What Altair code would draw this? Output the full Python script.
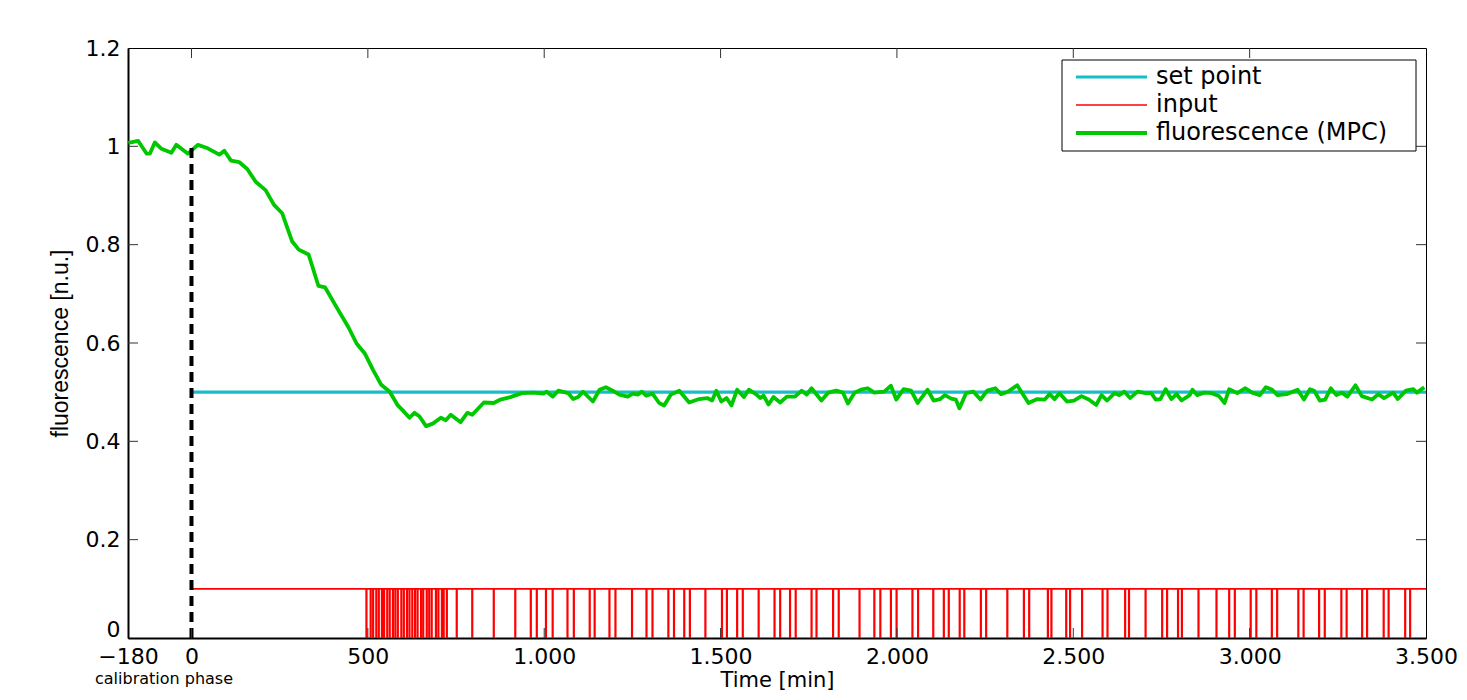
import altair as alt
import pandas as pd

# ---------------- data ----------------
T_START, T_END = -180, 3500
SET_POINT = 0.5
INPUT_LEVEL = 0.1
CALIB_END = 0
CALIB_TOP = 1.0

fluo_t = [-179, -151, -127, -118, -104, -85, -57, -43, -10, 18, 46, 79, 93, 112, 135, 158,
          182, 210, 234, 257, 285, 304, 332, 360, 379, 412, 445, 468, 492, 515, 538, 562,
          585, 599, 618, 632, 646, 665, 684, 707, 721, 735, 763, 782, 796, 829, 857, 876,
          904, 937, 970, 998, 1007, 1024, 1040, 1068, 1082, 1096, 1110, 1138, 1157, 1175,
          1194, 1213, 1237, 1251, 1265, 1277, 1289, 1307, 1326, 1340, 1359, 1383, 1411,
          1439, 1462, 1476, 1488, 1502, 1517, 1531, 1547, 1566, 1580, 1598, 1613, 1622,
          1636, 1650, 1669, 1688, 1711, 1730, 1744, 1758, 1786, 1805, 1828, 1847, 1861,
          1880, 1898, 1917, 1936, 1964, 1983,
          1998, 2019, 2040, 2059, 2087, 2104, 2123, 2136, 2154, 2167, 2177, 2196, 2217,
          2237, 2256, 2279, 2295, 2315, 2341, 2373, 2398, 2419, 2433, 2447, 2461, 2482,
          2502, 2523, 2544, 2565, 2580, 2596, 2617, 2630, 2645, 2661, 2682, 2705, 2721,
          2734, 2747, 2762, 2778, 2793, 2807, 2830, 2838, 2851, 2871, 2892, 2913, 2929,
          2942, 2965, 2988, 3007, 3029, 3046, 3064, 3079, 3105, 3136, 3154, 3171, 3183,
          3199, 3214, 3230, 3246, 3261, 3277, 3300, 3318, 3347, 3365, 3381, 3407, 3420,
          3443, 3464, 3474, 3495]
fluo_v = [1.007, 1.011, 0.985, 0.985, 1.008, 0.995, 0.987, 1.003, 0.985, 1.003, 0.996, 0.983,
          0.991, 0.971, 0.968, 0.954, 0.928, 0.911, 0.881, 0.864, 0.807, 0.790, 0.780, 0.716,
          0.713, 0.672, 0.632, 0.599, 0.578, 0.545, 0.515, 0.501,
          0.473, 0.463, 0.448, 0.458, 0.451, 0.431, 0.436, 0.448, 0.443, 0.454, 0.439, 0.458,
          0.454, 0.479, 0.478, 0.485, 0.490, 0.498, 0.499, 0.497, 0.501, 0.491, 0.503, 0.498,
          0.486, 0.490, 0.501, 0.481, 0.505, 0.510, 0.503, 0.495, 0.491, 0.497, 0.495, 0.501,
          0.493, 0.497, 0.478, 0.473, 0.495, 0.503, 0.479, 0.486, 0.488, 0.483, 0.503, 0.481,
          0.488, 0.473, 0.505, 0.490, 0.505, 0.497, 0.488, 0.493, 0.475, 0.490, 0.479, 0.491,
          0.491, 0.503, 0.495, 0.508, 0.483, 0.499, 0.503, 0.499, 0.477, 0.499, 0.505, 0.508,
          0.499, 0.501, 0.513,
          0.485, 0.506, 0.503, 0.478, 0.505, 0.483, 0.486, 0.494, 0.487, 0.485, 0.467, 0.498,
          0.501, 0.485, 0.503, 0.508, 0.496, 0.501, 0.514, 0.478, 0.486, 0.485, 0.496, 0.486,
          0.498, 0.481, 0.483, 0.492, 0.485, 0.474, 0.494, 0.483, 0.498, 0.494, 0.501, 0.488,
          0.501, 0.498, 0.498, 0.485, 0.486, 0.506, 0.486, 0.496, 0.483, 0.494, 0.505, 0.494,
          0.499, 0.498, 0.492, 0.478, 0.506, 0.498, 0.508, 0.499, 0.494, 0.510, 0.505, 0.494,
          0.496, 0.505, 0.485, 0.506, 0.503, 0.483, 0.485, 0.508, 0.494, 0.499, 0.491, 0.514,
          0.492, 0.485, 0.496, 0.488, 0.499, 0.486, 0.503, 0.506, 0.499, 0.510]

input_pulse_t = [496, 508, 515, 524, 531, 540, 546, 555, 562, 571, 578, 585, 595, 602, 611, 618,
                 626, 634, 641, 651, 657, 667, 674, 681, 693, 700, 710, 715, 724,
                 752, 796, 857, 918, 962, 979, 1005, 1024, 1066, 1084, 1129, 1143, 1185, 1202,
                 1249, 1290, 1307, 1352, 1368, 1397, 1413, 1457, 1504, 1518, 1547, 1563, 1608,
                 1653, 1669, 1697, 1713, 1758, 1772, 1819, 1835, 1894, 1936, 1953, 1983, 1999,
                 2044, 2060, 2103, 2133, 2147, 2178, 2191, 2238, 2253, 2313, 2360, 2375, 2428,
                 2438, 2480, 2491, 2525, 2583, 2597, 2647, 2658, 2705, 2752, 2766, 2797, 2808,
                 2855, 2906, 2942, 2958, 3003, 3019, 3063, 3078, 3138, 3153, 3197, 3213, 3260,
                 3275, 3319, 3333, 3380, 3394, 3441, 3455]

x_ticks = [-180, 0, 500, 1000, 1500, 2000, 2500, 3000, 3500]
y_ticks = [0, 0.2, 0.4, 0.6, 0.8, 1.0, 1.2]
legend_labels = ["set point", "input", "fluorescence (MPC)"]
calib_label = "calibration phase"

# ---------------- style ----------------
W, H = 1298, 590
FONT = "DejaVu Sans"
C_SET = "#17BEC8"
C_IN = "#FF0000"
C_FL = "#00C800"

fluo_df = pd.DataFrame({"t": fluo_t, "v": fluo_v})
pulse_df = pd.DataFrame({"t": input_pulse_t, "v": [0] * len(input_pulse_t),
                         "v2": [INPUT_LEVEL] * len(input_pulse_t)})
base_in_df = pd.DataFrame({"t": [CALIB_END], "t2": [T_END], "v": [INPUT_LEVEL]})
set_df = pd.DataFrame({"t": [CALIB_END], "t2": [T_END], "v": [SET_POINT]})
calib_df = pd.DataFrame({"t": [CALIB_END], "v": [0], "v2": [CALIB_TOP]})
xt_df = pd.DataFrame({"t": x_ticks[1:-1]})
yt_df = pd.DataFrame({"v": y_ticks[1:-1]})
one = pd.DataFrame({"k": [0]})

xscale = alt.Scale(domain=[T_START, T_END], nice=False, zero=False)
yscale = alt.Scale(domain=[0, 1.2], nice=False)

xaxis = alt.Axis(values=x_ticks, labelExpr="replace(format(datum.value, ','), ',', '.')",
                 title="Time [min]", titleFont=FONT, titleFontSize=21, titleFontWeight="normal",
                 titleColor="black", titleX=W / 2, titleY=48, titleBaseline="alphabetic",
                 labelFont=FONT, labelFontSize=22, labelColor="black", labelPadding=8,
                 labelOverlap=False, labelFlush=False, ticks=False, grid=False,
                 domainColor="black", domainWidth=2)
yaxis = alt.Axis(values=y_ticks, format=".1~f", title="fluorescence [n.u.]",
                 titleFont="Liberation Sans", titleFontSize=23, titleFontWeight="normal",
                 titleColor="black", titleAngle=270, titleX=-61, titleY=H / 2,
                 titleBaseline="alphabetic", titleAlign="center",
                 labelFont=FONT, labelFontSize=22, labelColor="black", labelPadding=8,
                 labelOffset=alt.ConditionalAxisNumber(
                     condition={"test": "datum.value == 0", "value": -9}, value=0),
                 labelOverlap=False, ticks=False, grid=False,
                 domainColor="black", domainWidth=2)


def X(field="t"):
    return alt.X(f"{field}:Q", scale=xscale, axis=xaxis)


def Y(field="v"):
    return alt.Y(f"{field}:Q", scale=yscale, axis=yaxis)


base_in = alt.Chart(base_in_df).mark_rule(color=C_IN, strokeWidth=1.6).encode(
    x=X(), x2="t2:Q", y=Y())
pulses = alt.Chart(pulse_df).mark_rule(color=C_IN, strokeWidth=2.2).encode(
    x=X(), y=Y(), y2="v2:Q")
setp = alt.Chart(set_df).mark_rule(color=C_SET, strokeWidth=3.2).encode(
    x=X(), x2="t2:Q", y=Y())
fluo = alt.Chart(fluo_df).mark_line(color=C_FL, strokeWidth=3.8, strokeJoin="round").encode(
    x=X(), y=Y())
calib = alt.Chart(calib_df).mark_rule(color="black", strokeWidth=4, strokeDash=[10, 6]).encode(
    x=X(), y=Y(), y2="v2:Q")

TICK = 10
tick_col = "#333333"
xt_bottom = alt.Chart(xt_df).mark_rule(color=tick_col, strokeWidth=1).encode(
    x=X(), y=alt.value(H), y2=alt.value(H - TICK))
xt_top = alt.Chart(xt_df).mark_rule(color=tick_col, strokeWidth=1).encode(
    x=X(), y=alt.value(0), y2=alt.value(TICK))
yt_left = alt.Chart(yt_df).mark_rule(color=tick_col, strokeWidth=1).encode(
    y=Y(), x=alt.value(0), x2=alt.value(TICK))
yt_right = alt.Chart(yt_df).mark_rule(color=tick_col, strokeWidth=1).encode(
    y=Y(), x=alt.value(W), x2=alt.value(W - TICK))

calib_text = alt.Chart(one).mark_text(font=FONT, fontSize=16, align="center",
                                      baseline="alphabetic", color="black").encode(
    x=alt.value(36), y=alt.value(H + 46), text=alt.value(calib_label))

# legend (drawn by hand, MATLAB style box)
LX1 = W - 10
LX0, LY0, LY1 = LX1 - 354, 12, 103
leg_box = alt.Chart(one).mark_rect(fill="white", stroke="black", strokeWidth=1).encode(
    x=alt.value(LX0), x2=alt.value(LX1), y=alt.value(LY0), y2=alt.value(LY1))
leg_layers = [leg_box]
leg_colors = [C_SET, C_IN, C_FL]
leg_widths = [3.2, 1.6, 3.8]
for i, (lab, col, sw) in enumerate(zip(legend_labels, leg_colors, leg_widths)):
    yy = 29 + 28 * i
    leg_layers.append(alt.Chart(one).mark_rule(color=col, strokeWidth=sw).encode(
        x=alt.value(LX0 + 14), x2=alt.value(LX0 + 85), y=alt.value(yy)))
    leg_layers.append(alt.Chart(one).mark_text(font=FONT, fontSize=24, align="left",
                                               baseline="middle", color="black").encode(
        x=alt.value(LX0 + 94), y=alt.value(yy), text=alt.value(lab)))

chart = alt.layer(
    base_in, pulses, setp, fluo, calib,
    xt_bottom, xt_top, yt_left, yt_right, calib_text, *leg_layers
).properties(
    width=W, height=H,
    autosize=alt.AutoSizeParams(type="none"),
    padding={"left": 120, "top": 40, "right": 33, "bottom": 52},
    background="white",
).configure_view(stroke="black", strokeWidth=1)

chart.save("out.html", embed_options={"renderer": "svg", "actions": False})
